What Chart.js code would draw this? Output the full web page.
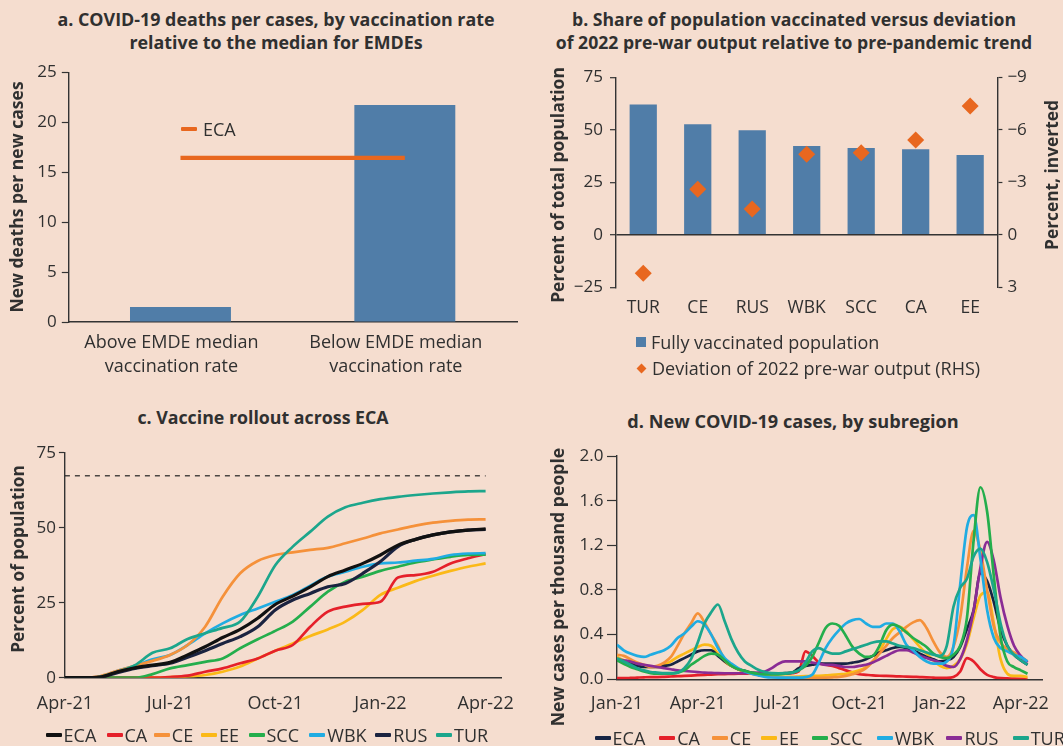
<!DOCTYPE html>
<html><head><meta charset="utf-8">
<script src="https://cdn.jsdelivr.net/npm/chart.js@4.4.1/dist/chart.umd.min.js"></script>
<style>
html,body{margin:0;padding:0}
body{width:1063px;height:746px;background:#F5DDCF;position:relative;overflow:hidden;font-family:"Open Sans",Lato,sans-serif;color:#303030}
canvas{position:absolute}
.t{position:absolute;font-weight:700;font-size:17px;line-height:23px;text-align:center;white-space:nowrap;transform:translateX(-50%)}
.yt{position:absolute;left:0;top:0;font-weight:700;font-size:17px;white-space:nowrap;transform:translate(-50%,-50%) rotate(-90deg)}
.li{position:absolute;font-size:18px;white-space:nowrap;display:flex;align-items:center;height:24px;transform:translateY(-50%)}
.li i{display:inline-block;width:16px;height:3.5px;margin-right:2px;border-radius:1px}
</style></head><body>
<div class="t" id="ta" style="left:276px;top:8px">a. COVID-19 deaths per cases, by vaccination rate<br>relative to the median for EMDEs</div>
<div class="t" id="tb" style="left:794px;top:8px">b. Share of population vaccinated versus deviation<br>of 2022 pre-war output relative to pre-pandemic trend</div>
<div class="t" id="tc" style="left:263px;top:406px">c. Vaccine rollout across ECA</div>
<div class="t" id="td" style="left:793px;top:410px">d. New COVID-19 cases, by subregion</div>

<canvas id="ca" width="530" height="390" style="left:0;top:0"></canvas>
<canvas id="cb" width="533" height="390" style="left:530px;top:0"></canvas>
<canvas id="cc" width="530" height="346" style="left:0;top:400px"></canvas>
<canvas id="cd" width="533" height="346" style="left:530px;top:400px"></canvas>

<div class="yt" id="ya" style="left:16px;top:197px">New deaths per new cases</div>
<div class="yt" id="yb" style="left:557px;top:185px">Percent of total population</div>
<div class="yt" id="yb2" style="left:1051px;top:175px">Percent, inverted</div>
<div class="yt" id="yc" style="left:17px;top:559px">Percent of population</div>
<div class="yt" id="yd" style="left:557px;top:587px">New cases per thousand people</div>

<div class="li" style="left:181px;top:129px"><i style="background:#E8671F;height:4px"></i><span style="margin-left:4px">ECA</span></div>
<div class="li" style="left:636px;top:342px"><i style="background:#507DA8;width:10px;height:10px;border-radius:0;margin-right:5px"></i>Fully vaccinated population</div>
<div class="li" style="left:637px;top:368px"><i style="background:#E8671F;width:7px;height:7px;border-radius:0;transform:rotate(45deg);margin-right:7px;margin-left:1px"></i>Deviation of 2022 pre-war output (RHS)</div>
<div id="legc"></div>
<div id="legd"></div>

<script>
// ---------- Panel a ----------
const aCategories = [["Above EMDE median","vaccination rate"],["Below EMDE median","vaccination rate"]];
const aDeaths = [1.5, 21.74];
const aECA = 16.44;
const aTicks = [0, 5, 10, 15, 20, 25];

// ---------- Panel b ----------
const bCategories = ["TUR","CE","RUS","WBK","SCC","CA","EE"];
const bVaccinated = [62.1, 52.6, 49.8, 42.3, 41.3, 40.7, 38.0];
const bDeviation = [2.2, -2.6, -1.47, -4.6, -4.69, -5.42, -7.36];
const bLeftTicks = [-25, 0, 25, 50, 75];
const bRightTicks = [-9, -6, -3, 0, 3];

// ---------- Panel c ----------
const cSeriesNames = ["ECA","CA","CE","EE","SCC","WBK","RUS","TUR"];
const cMonths = [0,0.5,1,1.5,2,2.5,3,3.5,4,4.5,5,5.5,6,6.5,7,7.5,8,8.5,9,9.5,10,10.5,11,11.5,12];
const cTickMonths = [0,3,6,9,12];
const cTickLabels = ["Apr-21","Jul-21","Oct-21","Jan-22","Apr-22"];
const cTarget = 67.3;
const cECA = [0,0,0.2,2,3.3,4.2,5.1,7.6,10.3,13.4,16.1,19.8,24.4,27.2,30.3,33.7,35.9,38.1,40.9,44.2,46.1,47.6,48.6,49.2,49.6];
const cCA  = [0,0,0,0,0,0,0.2,0.7,2,3.1,4.8,6.4,9,10.9,17,22,23.7,24.6,25.3,33.4,34.2,35.3,38.1,39.8,41.2];
const cCE  = [0,0,0.5,2.3,4,5.6,7.6,10.9,17,27,34.8,38.9,40.9,41.8,42.6,43.3,44.8,46.4,48.1,49.4,50.7,51.7,52.3,52.7,52.8];
const cEE  = [0,0,0,0,0,0,0.2,0.4,0.9,2,3.7,6.4,9,11.4,13.9,16.1,18.7,22.6,27.6,30,32.2,34,35.6,37,38.1];
const cSCC = [0,0,0,0,0,1.2,3.1,4.2,5.3,6.4,9.8,12.8,15.6,18.7,23.7,28.7,32,33.7,35.6,37,38.4,39.4,40.3,40.9,41];
const cWBK = [0,0,0.4,2.3,4,6.1,7.6,10.9,14.8,18.1,20.9,23.1,25.3,27.6,30.7,33.7,35.3,37,38.1,38.4,39,39.6,40.9,41.4,41.5];
const cRUS = [0,0,0.1,1.7,3.1,4,4.8,6.8,9,11.4,13.7,17,22.6,25.9,28.1,30.3,31.4,34.8,38.7,43.7,46.1,47.6,48.6,49.2,49.4];
const cTUR = [0,0,0.3,2,4.2,8.3,9.8,12.9,14.8,16.6,18.7,27,37.5,43.7,48.7,53.7,56.8,58.3,59.5,60.3,60.9,61.4,61.8,62.1,62.2];

// ---------- Panel d ----------
const dMonths = [0,0.25,0.5,0.75,1,1.25,1.5,1.75,2,2.25,2.5,2.75,3,3.25,3.5,3.75,4,4.25,4.5,4.75,5,5.25,5.5,5.75,6,6.25,6.5,6.75,7,7.25,7.5,7.75,8,8.25,8.5,8.75,9,9.25,9.5,9.75,10,10.25,10.5,10.75,11,11.25,11.5,11.75,12,12.25,12.5,12.75,13,13.25,13.5,13.75,14,14.25,14.5,14.75,15,15.25];
const dTickMonths = [0,3,6,9,12,15];
const dTickLabels = ["Jan-21","Apr-21","Jul-21","Oct-21","Jan-22","Apr-22"];
const dECA = [0.17,0.16,0.14,0.12,0.11,0.11,0.11,0.12, 0.13,0.16,0.19,0.22,0.25,0.26,0.26,0.21, 0.16,0.12,0.09,0.075,0.06,0.05,0.05,0.05, 0.05,0.055,0.06,0.1,0.12,0.13,0.14,0.14, 0.14,0.14,0.14,0.15,0.16,0.18,0.21,0.24, 0.26,0.28,0.29,0.28,0.26,0.23,0.2,0.18, 0.16,0.17,0.2,0.29,0.45,0.62,0.95,0.88, 0.69,0.45,0.3,0.22,0.17,0.13];
const dCA  = [0.01,0.01,0.012,0.015,0.018,0.02,0.02,0.022, 0.025,0.028,0.03,0.033,0.037,0.04,0.042,0.045, 0.047,0.048,0.05,0.05,0.05,0.05,0.05,0.05, 0.05,0.052,0.055,0.07,0.25,0.21,0.15,0.13, 0.12,0.1,0.08,0.06,0.045,0.04,0.035,0.032, 0.03,0.028,0.026,0.024,0.022,0.02,0.018,0.015, 0.012,0.012,0.02,0.07,0.19,0.16,0.09,0.04, 0.02,0.01,0.008,0.006,0.005,0.005];
const dCE  = [0.22,0.21,0.18,0.15,0.13,0.11,0.12,0.15, 0.2,0.3,0.41,0.5,0.59,0.51,0.4,0.3, 0.17,0.12,0.09,0.065,0.05,0.04,0.03,0.022, 0.018,0.015,0.013,0.012,0.012,0.012,0.013,0.015, 0.018,0.022,0.03,0.045,0.065,0.1,0.16,0.23, 0.3,0.37,0.42,0.47,0.51,0.53,0.46,0.34, 0.24,0.2,0.29,0.55,1.0,1.33,1.15,0.8, 0.47,0.33,0.27,0.24,0.2,0.16];
const dEE  = [0.2,0.17,0.15,0.13,0.11,0.11,0.11,0.13, 0.16,0.2,0.23,0.26,0.29,0.31,0.3,0.23, 0.16,0.12,0.09,0.065,0.05,0.04,0.033,0.028, 0.024,0.022,0.022,0.025,0.028,0.03,0.032,0.035, 0.04,0.045,0.05,0.065,0.08,0.11,0.16,0.25, 0.36,0.45,0.47,0.43,0.36,0.29,0.23,0.17, 0.12,0.1,0.12,0.18,0.32,0.55,0.75,0.78, 0.5,0.18,0.05,0.03,0.03,0.02];
const dSCC = [0.17,0.14,0.11,0.09,0.07,0.055,0.05,0.05, 0.05,0.06,0.08,0.13,0.17,0.21,0.23,0.22, 0.17,0.12,0.09,0.075,0.06,0.05,0.045,0.045, 0.045,0.05,0.06,0.08,0.12,0.2,0.33,0.46, 0.5,0.48,0.39,0.29,0.23,0.2,0.21,0.3, 0.44,0.49,0.47,0.42,0.37,0.33,0.29,0.23, 0.2,0.19,0.22,0.3,0.55,1.25,1.72,1.5, 0.92,0.38,0.16,0.11,0.08,0.05];
const dWBK = [0.31,0.26,0.23,0.21,0.2,0.22,0.24,0.26, 0.3,0.37,0.41,0.47,0.52,0.49,0.4,0.28, 0.19,0.14,0.1,0.07,0.05,0.035,0.022,0.016, 0.015,0.015,0.015,0.015,0.02,0.04,0.15,0.28, 0.37,0.44,0.5,0.53,0.54,0.5,0.47,0.47, 0.5,0.5,0.43,0.31,0.26,0.2,0.16,0.14, 0.14,0.16,0.3,0.85,1.36,1.47,1.08,0.62, 0.37,0.28,0.25,0.22,0.2,0.16];
const dRUS = [0.18,0.17,0.16,0.14,0.13,0.12,0.11,0.1, 0.09,0.08,0.075,0.07,0.065,0.06,0.058,0.055, 0.054,0.054,0.054,0.055,0.058,0.06,0.07,0.1, 0.14,0.16,0.16,0.16,0.16,0.15,0.14,0.13, 0.13,0.12,0.11,0.11,0.12,0.13,0.15,0.18, 0.21,0.24,0.26,0.26,0.24,0.21,0.19,0.17, 0.15,0.12,0.11,0.18,0.35,0.62,1.0,1.23, 1.06,0.73,0.48,0.3,0.21,0.15];
const dTUR = [0.19,0.16,0.13,0.1,0.08,0.065,0.06,0.055, 0.055,0.06,0.1,0.18,0.33,0.5,0.6,0.67, 0.52,0.36,0.24,0.16,0.12,0.085,0.065,0.055, 0.054,0.055,0.06,0.08,0.15,0.25,0.28,0.25, 0.23,0.23,0.25,0.27,0.29,0.31,0.33,0.34, 0.34,0.32,0.3,0.29,0.28,0.26,0.24,0.22, 0.21,0.3,0.65,0.82,0.9,1.1,1.17,1.05, 0.8,0.5,0.3,0.22,0.17,0.13];

// ---------- styling ----------
const TXT = '#303030', AX = '#333333';
const BLUE = '#507DA8', ORANGE = '#E8671F';
const cColors = {ECA:'#111111', CA:'#E5202A', CE:'#F5913A', EE:'#FBB917', SCC:'#24AE4C', WBK:'#20ACE2', RUS:'#1B2340', TUR:'#1CA68C'};
const dColors = {ECA:'#172544', CA:'#E5202A', CE:'#F5913A', EE:'#FBB917', SCC:'#24AE4C', WBK:'#20ACE2', RUS:'#8A2C95', TUR:'#1CA68C'};

Chart.defaults.font.family = '"Open Sans", Lato, sans-serif';
Chart.defaults.font.size = 17;
Chart.defaults.color = TXT;
Chart.defaults.animation = false;
Chart.defaults.plugins.legend.display = false;
Chart.defaults.plugins.tooltip.enabled = false;

const minus = v => String(v).replace('-', '\u2212');
const fixTicks = vals => (s => { s.ticks = vals.map(v => ({value: v})); });

// fit HTML titles to the widths measured on the reference
[['ta', 437], ['tb', 477], ['tc', 251], ['td', 332], ['ya', 231], ['yb', 236], ['yb2', 150], ['yc', 188], ['yd', 279]].forEach(([id, w]) => {
  const el = document.getElementById(id);
  const fs = 17 * w / el.offsetWidth;
  el.style.fontSize = fs.toFixed(2) + 'px';
});

// ---------- a ----------
new Chart(document.getElementById('ca'), {
  data: {
    labels: aCategories,
    datasets: [
      {type: 'line', data: aCategories.map(() => aECA), borderColor: ORANGE, borderWidth: 4.3, pointRadius: 0, order: 0},
      {type: 'bar', data: aDeaths, backgroundColor: BLUE, barPercentage: 0.45, categoryPercentage: 1, order: 1}
    ]
  },
  options: {
    responsive: false,
    layout: {padding: {top: 72.5, right: 13, left: 0, bottom: 0}},
    scales: {
      x: {offset: true, grid: {display: false, drawTicks: false}, border: {display: true, color: AX, width: 1.4},
          ticks: {padding: 9, font: {size: 18, lineHeight: 1.33}, labelOffset: -9, maxRotation: 0, autoSkip: false},
          afterFit: s => { s.height = 390 - 322; }},
      y: {min: 0, max: 25, afterBuildTicks: fixTicks(aTicks), ticks: {padding: 5},
          grid: {drawOnChartArea: false, drawTicks: true, tickLength: 6.5, tickColor: AX, tickWidth: 1.2},
          border: {color: AX, width: 1.4}, afterFit: s => { s.width = 68.3; }}
    }
  }
});

// ---------- b ----------
new Chart(document.getElementById('cb'), {
  data: {
    labels: bCategories,
    datasets: [
      {type: 'line', data: bDeviation, yAxisID: 'y2', showLine: false, pointStyle: 'rectRot', pointRadius: 8.5,
       pointBackgroundColor: ORANGE, pointBorderWidth: 0, order: 0},
      {type: 'bar', data: bVaccinated, yAxisID: 'y', backgroundColor: BLUE, barPercentage: 0.5, categoryPercentage: 1, order: 1}
    ]
  },
  options: {
    responsive: false,
    layout: {padding: {top: 77.3, right: 0, left: 0, bottom: 0}},
    scales: {
      x: {offset: true, grid: {display: false, drawTicks: false}, border: {display: false},
          ticks: {padding: 10, font: {size: 17.5}, maxRotation: 0, autoSkip: false},
          afterFit: s => { s.height = 390 - 287.3; }},
      y: {position: 'left', min: -25, max: 75, afterBuildTicks: fixTicks(bLeftTicks), ticks: {padding: 7, callback: v => minus(v)},
          grid: {drawOnChartArea: true, color: c => (c.tick && c.tick.value === 0) ? AX : 'rgba(0,0,0,0)', lineWidth: 1.4,
                 drawTicks: true, tickLength: 6, tickColor: AX, tickWidth: 1.2},
          border: {color: AX, width: 1.4}, afterFit: s => { s.width = 86; }},
      y2: {position: 'right', min: -9, max: 3, reverse: true, afterBuildTicks: fixTicks(bRightTicks), ticks: {padding: 5, callback: v => minus(v)},
          grid: {drawOnChartArea: false, drawTicks: true, tickLength: 5, tickColor: AX, tickWidth: 1.2},
          border: {color: AX, width: 1.4}, afterFit: s => { s.width = 533 - 467.4; }}
    }
  }
});

// ---------- c ----------
const cSeries = {ECA: cECA, CA: cCA, CE: cCE, EE: cEE, SCC: cSCC, WBK: cWBK, RUS: cRUS, TUR: cTUR};
const cOrder = {ECA: 0, RUS: 1, TUR: 2, CE: 3, WBK: 4, SCC: 5, CA: 6, EE: 7};
const cDatasets = cSeriesNames.map(n => ({
  label: n, data: cMonths.map((m, i) => ({x: m, y: cSeries[n][i]})),
  borderColor: cColors[n], borderWidth: (n === 'ECA' || n === 'RUS') ? 3.2 : 2.7,
  pointRadius: 0, cubicInterpolationMode: 'monotone', order: cOrder[n]
}));
cDatasets.push({label: 'target', data: [{x: cMonths[0], y: cTarget}, {x: cMonths[cMonths.length - 1], y: cTarget}],
  borderColor: '#222', borderWidth: 1.2, borderDash: [5, 5], pointRadius: 0, order: 9});
new Chart(document.getElementById('cc'), {
  type: 'line',
  data: {datasets: cDatasets},
  options: {
    responsive: false,
    layout: {padding: {top: 52.7, right: 23, left: 0, bottom: 0}},
    scales: {
      x: {type: 'linear', min: 0, max: 12.45, afterBuildTicks: fixTicks(cTickMonths),
          ticks: {padding: 15.5, font: {size: 18}, maxRotation: 0, callback: v => cTickLabels[cTickMonths.indexOf(v)]},
          grid: {display: false, drawTicks: false}, border: {display: true, color: AX, width: 1.4},
          afterFit: s => { s.height = 346 - 277.7; }},
      y: {min: 0, max: 75, afterBuildTicks: fixTicks([0, 25, 50, 75]), ticks: {padding: 3},
          grid: {drawOnChartArea: false, drawTicks: true, tickLength: 6, tickColor: AX, tickWidth: 1.2},
          border: {color: AX, width: 1.4}, afterFit: s => { s.width = 64.9; }}
    }
  }
});

// ---------- d ----------
const dSeriesNames = ["ECA","CA","CE","EE","SCC","WBK","RUS","TUR"];
const dSeries = {ECA: dECA, CA: dCA, CE: dCE, EE: dEE, SCC: dSCC, WBK: dWBK, RUS: dRUS, TUR: dTUR};
const dOrder = {TUR: 0, SCC: 1, WBK: 2, RUS: 3, CE: 4, ECA: 5, EE: 6, CA: 7};
new Chart(document.getElementById('cd'), {
  type: 'line',
  data: {datasets: dSeriesNames.map(n => ({
    label: n, data: dMonths.map((m, i) => ({x: m, y: dSeries[n][i]})),
    borderColor: dColors[n], borderWidth: 2.7, pointRadius: 0, cubicInterpolationMode: 'monotone', order: dOrder[n]
  }))},
  options: {
    responsive: false,
    layout: {padding: {top: 56, right: 13, left: 0, bottom: 0}},
    scales: {
      x: {type: 'linear', min: 0, max: 15.8, afterBuildTicks: fixTicks(dTickMonths),
          ticks: {padding: 13.5, font: {size: 18}, maxRotation: 0, callback: v => dTickLabels[dTickMonths.indexOf(v)]},
          grid: {display: false, drawTicks: false}, border: {display: true, color: AX, width: 1.4},
          afterFit: s => { s.height = 346 - 279.3; }},
      y: {min: 0, max: 2, afterBuildTicks: fixTicks([0, 0.4, 0.8, 1.2, 1.6, 2.0]), ticks: {padding: 3.5, callback: v => v.toFixed(1)},
          grid: {drawOnChartArea: false, drawTicks: true, tickLength: 10, tickColor: AX, tickWidth: 1.2},
          border: {color: AX, width: 1.4}, afterFit: s => { s.width = 87; }}
    }
  }
});

// ---------- HTML legends for c and d ----------
const cLegendX = [45.6, 106.5, 153.8, 201, 248.5, 309.3, 375.3, 436];
const dLegendX = [594.6, 659.2, 711.8, 761.1, 812.1, 876.7, 946.4, 1012.7];
function legend(names, colors, xs, y, id) {
  const host = document.getElementById(id);
  names.forEach((n, i) => {
    const d = document.createElement('div');
    d.className = 'li';
    d.style.left = xs[i] + 'px';
    d.style.top = y + 'px';
    d.innerHTML = '<i style="background:' + colors[n] + '"></i>' + n;
    host.appendChild(d);
  });
}
legend(cSeriesNames, cColors, cLegendX, 735, 'legc');
legend(dSeriesNames, dColors, dLegendX, 738, 'legd');
</script>
</body></html>
